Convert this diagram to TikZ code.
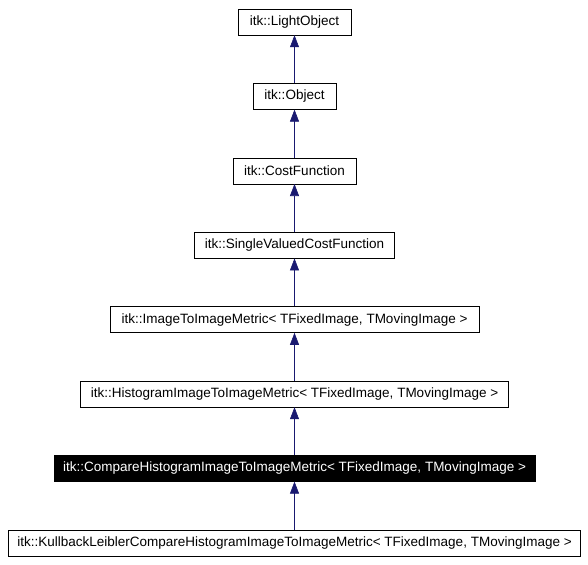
\documentclass[tikz,border=0pt]{standalone}
\usepackage{fontspec}
\setmainfont{Liberation Sans}
\usetikzlibrary{arrows.meta,positioning}
\definecolor{edgeblue}{HTML}{191970}

\begin{document}
\begin{tikzpicture}[
			x=1pt, y=1pt,
			klass/.style = {draw, thin, minimum height=26pt, inner sep=2pt, font=\fontsize{13.5}{15}\selectfont},
			current/.style = {klass, fill=black, text=white},
			inherit/.style = {draw=edgeblue, semithick, -{Triangle[length=12pt, width=9pt]}}
			]
			\useasboundingbox (0,0) rectangle (588,-564);
			\node[klass, minimum width=113pt] (lobj) at (294.5,-22) {itk::LightObject};
			\node[klass, minimum width=83pt, below=48pt of lobj] (obj) {itk::Object};
			\node[klass, minimum width=123pt, below=48pt of obj] (cost) {itk::CostFunction};
			\node[klass, minimum width=200pt, below=48pt of cost] (svcost) {itk::SingleValuedCostFunction};
			\node[klass, minimum width=369pt, below=48pt of svcost] (i2i) {itk::ImageToImageMetric< TFixedImage, TMovingImage >};
			\node[klass, minimum width=428pt, below=48pt of i2i] (hist) {itk::HistogramImageToImageMetric< TFixedImage, TMovingImage >};
			\node[current, minimum width=481pt, below=48pt of hist] (cmp) {itk::CompareHistogramImageToImageMetric< TFixedImage, TMovingImage >};
			\node[klass, minimum width=572pt, below=48pt of cmp] (kl) {itk::KullbackLeiblerCompareHistogramImageToImageMetric< TFixedImage, TMovingImage >};
			
			\draw[inherit] (obj) -- (lobj);
			\draw[inherit] (cost) -- (obj);
			\draw[inherit] (svcost) -- (cost);
			\draw[inherit] (i2i) -- (svcost);
			\draw[inherit] (hist) -- (i2i);
			\draw[inherit] (cmp) -- (hist);
			\draw[inherit] (kl) -- (cmp);
		\end{tikzpicture}
\end{document}
